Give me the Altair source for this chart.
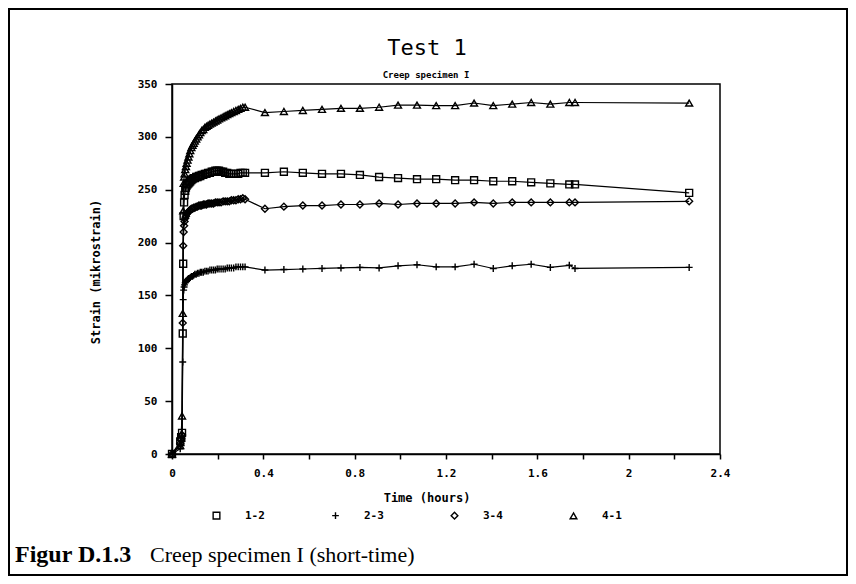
import altair as alt
import pandas as pd

# ---- data ----
time_dense = [0, 0.036, 0.040, 0.044, 0.047, 0.049, 0.051, 0.053, 0.055, 0.058,
              0.061, 0.064, 0.068, 0.072, 0.076, 0.080, 0.085, 0.090, 0.095, 0.100,
              0.106, 0.112, 0.118, 0.124, 0.130, 0.137, 0.144, 0.151, 0.158, 0.166,
              0.174, 0.182, 0.190, 0.198, 0.206, 0.215, 0.224, 0.233, 0.242, 0.251,
              0.260, 0.270, 0.280, 0.290, 0.300, 0.310, 0.320]
time_sparse = [0.407, 0.490, 0.573, 0.657, 0.740, 0.823, 0.907, 0.990, 1.073, 1.157,
               1.240, 1.323, 1.407, 1.490, 1.573, 1.657, 1.740, 1.765, 2.265]

strain_12 = [0, 12, 16, 20, 114, 180, 225, 238, 245, 249,
             252, 254, 255, 256, 257, 258, 259, 260, 261, 261,
             262, 262, 263, 263, 264, 264, 265, 265, 266, 266,
             267, 267, 268, 268, 268, 267, 267, 266, 266, 265,
             265, 265, 265, 265, 266, 266, 266,
             266, 267, 266, 265, 265, 264, 262, 261, 260, 260,
             259, 259, 258, 258, 257, 256, 255, 255, 247]
strain_23 = [0, 5, 8, 12, 87, 146, 155, 158, 160, 162,
             163, 164, 165, 166, 166, 167, 168, 168, 169, 170,
             170, 171, 171, 172, 172, 172, 173, 173, 173, 174,
             174, 174, 174, 175, 175, 175, 175, 175, 176, 176,
             176, 176, 177, 177, 177, 177, 177,
             174, 174.5, 175, 175.5, 176, 176.5, 176, 178, 179, 177,
             177, 179.5, 175.5, 178, 179.5, 176.5, 178.5, 175.5, 176.5]
strain_34 = [0, 10, 14, 18, 124, 197, 210, 216, 220, 223,
             225, 227, 228, 229, 230, 231, 232, 232, 233, 233,
             234, 234, 235, 235, 235, 236, 236, 236, 237, 237,
             237, 237, 238, 238, 238, 238, 239, 239, 239, 239,
             240, 240, 240, 241, 241, 242, 241,
             232, 234, 235, 235, 236, 236, 237, 236, 237, 237,
             237, 238, 237, 238, 238, 238, 238, 238, 239]
strain_41 = [0, 8, 18, 36, 133, 230, 256, 262, 265, 269,
             272, 275, 278, 281, 284, 287, 290, 292, 294, 296,
             298, 300, 302, 304, 306, 307, 309, 310, 311, 312,
             313, 314, 315, 316, 317, 318, 319, 320, 321, 322,
             323, 324, 325, 326, 327, 328, 328,
             323, 324, 325, 326, 327, 327, 328, 330, 330, 329.5,
             329.5, 332, 329.5, 331, 332.5, 331, 332.5, 332.5, 332]

series_names = ["1-2", "2-3", "3-4", "4-1"]
series_shapes = ["square", "M-1,0H1M0,-1V1", "diamond", "triangle-up"]

x_ticks = [0, 0.2, 0.4, 0.6, 0.8, 1.0, 1.2, 1.4, 1.6, 1.8, 2.0, 2.2, 2.4]
y_ticks = [0, 50, 100, 150, 200, 250, 300, 350]

title_text = "Test 1"
subtitle_text = "Creep specimen I"
x_title = "Time (hours)"
y_title = "Strain (mikrostrain)"
caption_bold = "Figur D.1.3"
caption_rest = "Creep specimen I (short-time)"

# ---- table ----
times = time_dense + time_sparse
rows = []
for name, vals in zip(series_names, [strain_12, strain_23, strain_34, strain_41]):
    for t, v in zip(times, vals):
        rows.append({"series": name, "time": t, "strain": v})
df = pd.DataFrame(rows)

MONO = "DejaVu Sans Mono"
W, H = 548, 370

x_enc = alt.X("time:Q", scale=alt.Scale(domain=[0, 2.4], nice=False, zero=True),
              axis=alt.Axis(values=x_ticks, title=None, grid=False,
                            labelExpr="round(datum.value*10) % 4 == 0 ? format(datum.value, '~g') : ''",
                            tickSize=5, tickColor="black", tickWidth=1.5,
                            domainColor="black", domainWidth=1.5,
                            labelFont=MONO, labelFontSize=11, labelFontWeight="bold",
                            labelColor="black", labelPadding=8, labelFlush=False))
y_enc = alt.Y("strain:Q", scale=alt.Scale(domain=[0, 350], nice=False),
              axis=alt.Axis(values=y_ticks, title=None, grid=False,
                            tickSize=7, tickColor="black", tickWidth=1.5,
                            domainColor="black", domainWidth=1.5,
                            labelFont=MONO, labelFontSize=11, labelFontWeight="bold",
                            labelColor="black", labelPadding=8))

base = alt.Chart(df)
lines = base.mark_line(color="black", strokeWidth=1.2).encode(
    x=x_enc, y=y_enc, detail="series:N", order="time:Q")
points = base.mark_point(filled=False, color="black", size=48, strokeWidth=1.4, opacity=1).encode(
    x=x_enc, y=y_enc,
    shape=alt.Shape("series:N",
                    scale=alt.Scale(domain=series_names, range=series_shapes),
                    legend=alt.Legend(orient="none", legendX=39, legendY=426,
                                      direction="horizontal", title=None,
                                      labelFont=MONO, labelFontSize=11, labelFontWeight="bold",
                                      labelColor="black", labelOffset=23, columnPadding=64,
                                      symbolSize=45, symbolStrokeColor="black",
                                      symbolStrokeWidth=1.4, padding=0)))

one = pd.DataFrame({"k": [0]})

def label(text, x, y, size, font=MONO, weight="normal", align="center",
          baseline="alphabetic", angle=0):
    return alt.Chart(one).mark_text(
        text=text, font=font, fontSize=size, fontWeight=weight, align=align,
        baseline=baseline, angle=angle, color="black").encode(
        x=alt.value(x), y=alt.value(y))

title = label(title_text, 255, -29, 22)
subtitle = label(subtitle_text, 254, -6, 9, weight="bold")
xt = label(x_title, 255, 418, 12, weight="bold")
yt = label(y_title, -76, 188, 12, weight="bold", baseline="middle", angle=270)
cap1 = label(caption_bold, -157, 478, 24, font="Liberation Serif", weight="bold", align="left")
cap2 = label(caption_rest, -22, 478, 22, font="Liberation Serif", align="left")

border = alt.Chart(one).mark_rect(fill=None, stroke="black", strokeWidth=2).encode(
    x=alt.value(-163), x2=alt.value(675), y=alt.value(-75), y2=alt.value(491))

chart = alt.layer(border, lines, points, title, subtitle, xt, yt, cap1, cap2).properties(
    width=W, height=H,
    autosize=alt.AutoSizeParams(type="none"),
    padding={"left": 164, "top": 76, "right": 128, "bottom": 122},
    background="white",
).configure_view(stroke="black", strokeWidth=1.5)

chart.save("out.html", embed_options={"renderer": "svg", "actions": False})
